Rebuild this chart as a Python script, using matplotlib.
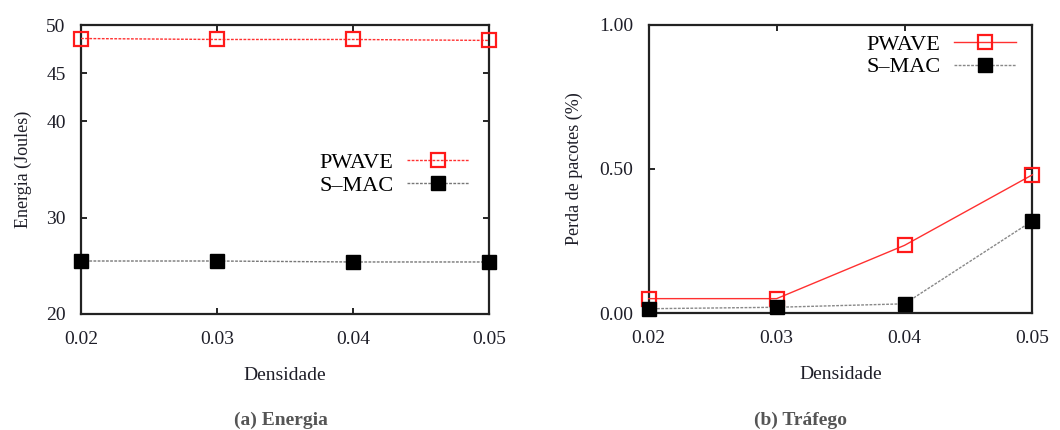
import matplotlib
matplotlib.use("Agg")
import matplotlib.pyplot as plt

plt.rcParams['font.family'] = ['Liberation Serif', 'DejaVu Serif']

densidade = [0.02, 0.03, 0.04, 0.05]
energia_pwave = [48.6, 48.5, 48.5, 48.4]
energia_smac = [25.5, 25.5, 25.4, 25.4]
perda_pwave = [0.05, 0.05, 0.235, 0.48]
perda_smac = [0.015, 0.02, 0.032, 0.32]

xticks = [0.02, 0.03, 0.04, 0.05]
xticklabels = ["0.02", "0.03", "0.04", "0.05"]
yticks_a = [20, 30, 40, 45, 50]
yticks_b = [0.0, 0.5, 1.0]
yticklabels_b = ["0.00", "0.50", "1.00"]

txt = '#1e1e28'

fig = plt.figure(figsize=(10.6, 4.3), dpi=100)
ax1 = fig.add_axes([0.0764, 0.2698, 0.385, 0.672])
ax2 = fig.add_axes([0.612, 0.272, 0.362, 0.670])


def style(ax):
    for s in ax.spines.values():
        s.set_linewidth(1.6)
        s.set_color('#222222')
    ax.tick_params(direction='in', length=4, width=1.2, top=True, right=True,
                   labelsize=14, labelcolor=txt)
    ax.tick_params(axis='x', pad=12)
    ax.tick_params(axis='y', pad=11)
    ax.set_xlim(0.02, 0.05)
    ax.set_xticks(xticks)
    ax.set_xticklabels(xticklabels)
    ax.set_xlabel('Densidade', fontsize=14, color=txt, labelpad=14)


# (a) Energia
ax1.plot(densidade, energia_pwave, color='#ff3030', lw=1.0, ls=(0, (2, 1)),
         marker='s', ms=10, mfc='none', mec='#ff1a1a', mew=1.6,
         clip_on=False, label='PWAVE', zorder=3)
ax1.plot(densidade, energia_smac, color='#777777', lw=1.0, ls=(0, (2, 1)),
         marker='s', ms=10, mfc='black', mec='black',
         clip_on=False, label='S\u2013MAC', zorder=3)
style(ax1)
ax1.set_ylim(20, 50)
ax1.set_yticks(yticks_a)
ax1.set_ylabel('Energia (Joules)', fontsize=13, color=txt, labelpad=10)
ax1.legend(loc='upper right', bbox_to_anchor=(1.0, 0.628), frameon=False,
           markerfirst=False, fontsize=16, handlelength=2.8,
           handletextpad=0.6, labelspacing=0.1)
fig.text(0.265, 0.012, '(a) Energia', fontsize=14, fontweight='bold',
         color='#555555', ha='center')

# (b) Trafego
ax2.plot(densidade, perda_pwave, color='#ff3030', lw=1.0, ls='-',
         marker='s', ms=10, mfc='none', mec='#ff1a1a', mew=1.6,
         clip_on=False, label='PWAVE', zorder=3)
ax2.plot(densidade, perda_smac, color='#888888', lw=1.0, ls=(0, (2, 1)),
         marker='s', ms=10, mfc='black', mec='black',
         clip_on=False, label='S\u2013MAC', zorder=3)
style(ax2)
ax2.set_ylim(0, 1.0)
ax2.set_yticks(yticks_b)
ax2.set_yticklabels(yticklabels_b)
ax2.set_ylabel('Perda de pacotes (%)', fontsize=13, color=txt, labelpad=12)
ax2.legend(loc='upper right', bbox_to_anchor=(1.01, 1.038), frameon=False,
           markerfirst=False, fontsize=16, handlelength=2.8,
           handletextpad=0.6, labelspacing=0.1)
fig.text(0.755, 0.012, '(b) Tráfego', fontsize=14, fontweight='bold',
         color='#555555', ha='center')

fig.savefig('out.png', dpi=100)
